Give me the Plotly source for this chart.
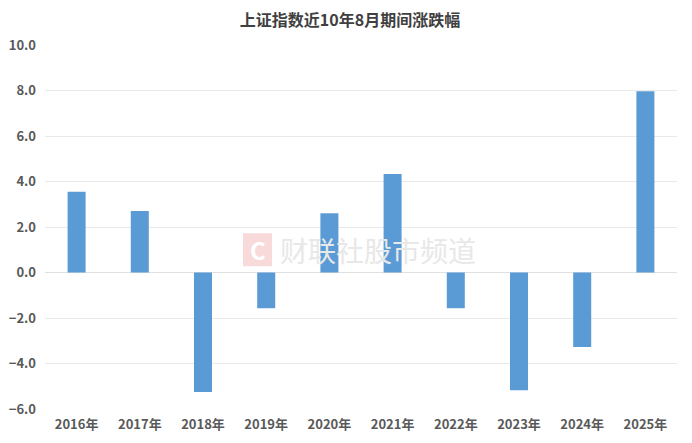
import plotly.graph_objects as go

years = ["2016年", "2017年", "2018年", "2019年", "2020年", "2021年", "2022年", "2023年", "2024年", "2025年"]
changes = [3.55, 2.70, -5.25, -1.57, 2.60, 4.33, -1.57, -5.18, -3.27, 7.97]
title_text = "上证指数近10年8月期间涨跌幅"
watermark = "财联社股市频道"

font_family = "Noto Sans CJK SC, Noto Sans, sans-serif"

# page body has an 8px default margin; compensate
OFF = 8
L, R, T, B = 45, 677, 45, 408.7  # plot area in window pixels

def px(X):
    return (X - L) / (R - L)

def py(Y):
    return (B - Y) / (B - T)

fig = go.Figure()
fig.add_trace(go.Bar(
    x=years, y=changes,
    marker=dict(color="#5B9BD5", line=dict(width=0)),
    hoverinfo="x+y",
))

fig.update_layout(
    width=692 - OFF, height=443 - OFF,
    paper_bgcolor="white", plot_bgcolor="white",
    margin=dict(l=L - OFF, r=692 - R, t=T - OFF, b=443 - B, pad=0),
    bargap=0.715,
    showlegend=False,
    title=dict(text="<b>" + title_text + "</b>", x=0.5, xanchor="center",
               y=1 - (20 - OFF) / (443 - OFF), yanchor="middle",
               font=dict(family=font_family, size=16, color="#404040")),
    font=dict(family=font_family, color="#595959"),
)
fig.update_yaxes(
    range=[-6, 10], dtick=2, tickformat=".1f", automargin=False,
    showgrid=True, gridcolor="#e9e9e9", gridwidth=1,
    zeroline=True, zerolinecolor="#e0e0e0", zerolinewidth=1,
    tickfont=dict(family=font_family, size=13, color="#595959", weight="bold"),
    ticks="", ticklabelstandoff=8,
)
fig.update_xaxes(
    showgrid=False, showline=False, ticks="", automargin=False,
    tickfont=dict(family=font_family, size=13, color="#595959", weight="bold"),
    ticklabelstandoff=6,
)

# watermark
fig.add_shape(type="rect", xref="paper", yref="paper",
              x0=px(243), x1=px(272), y0=py(266), y1=py(233),
              fillcolor="#f9dada", line=dict(width=0), layer="above")
fig.add_annotation(text="<b>C</b>", xref="paper", yref="paper",
                   x=px(257.5), y=py(249.5),
                   showarrow=False, font=dict(size=24, color="white", family=font_family))
fig.add_annotation(text=watermark, xref="paper", yref="paper",
                   x=px(278), xanchor="left", y=py(249.5),
                   showarrow=False, font=dict(size=28, color="#e8e8e8", family=font_family))

fig.write_html("out.html")
